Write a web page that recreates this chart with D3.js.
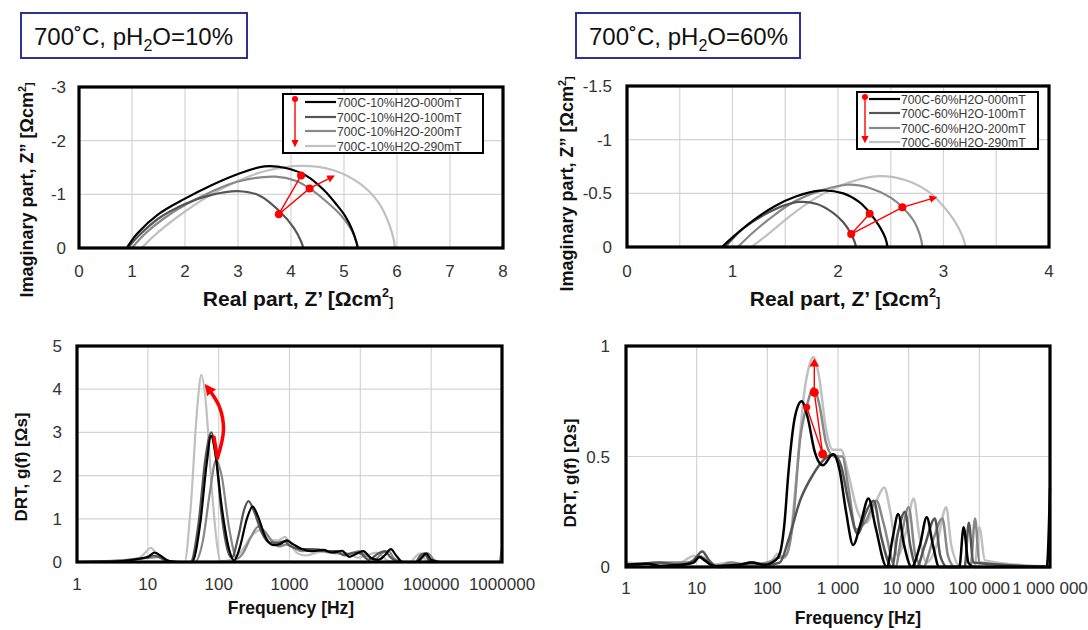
<!DOCTYPE html>
<html><head><meta charset="utf-8">
<script src="https://cdn.jsdelivr.net/npm/d3@7/dist/d3.min.js"></script>
<style>
body{margin:0;background:#fff}
svg{display:block}
text{font-family:"Liberation Sans",Arial,sans-serif}
</style>
</head><body>
<svg id="c" width="1088" height="630"></svg>
<script>
// ---------------- DATA ----------------
const titles = ["700˚C, pH|2|O=10%", "700˚C, pH|2|O=60%"];
const names10 = ["700C-10%H2O-000mT","700C-10%H2O-100mT","700C-10%H2O-200mT","700C-10%H2O-290mT"];
const names60 = ["700C-60%H2O-000mT","700C-60%H2O-100mT","700C-60%H2O-200mT","700C-60%H2O-290mT"];

// Nyquist, 10% H2O : [Z', Z'']
const nyq10_000 = [[0.9,0],[1.1,-0.27],[1.5,-0.63],[2.0,-0.92],[2.5,-1.17],[3.0,-1.38],[3.5,-1.52],[3.9,-1.49],[4.3,-1.34],[4.62,-1.08],[4.85,-0.82],[5.02,-0.6],[5.15,-0.35],[5.23,-0.12],[5.26,0]];
const nyq10_100 = [[0.92,0],[1.15,-0.25],[1.5,-0.55],[2.0,-0.82],[2.5,-0.99],[3.0,-1.06],[3.4,-0.98],[3.77,-0.7],[4.05,-0.38],[4.2,-0.1],[4.23,0]];
const nyq10_200 = [[1.0,0],[1.25,-0.27],[1.6,-0.55],[2.0,-0.8],[2.5,-1.05],[3.0,-1.24],[3.7,-1.33],[4.1,-1.25],[4.35,-1.11],[4.65,-0.88],[4.95,-0.6],[5.15,-0.32],[5.24,-0.1],[5.26,0]];
const nyq10_290 = [[1.18,0],[1.5,-0.3],[2.0,-0.68],[2.5,-1.0],[3.0,-1.25],[3.5,-1.43],[4.2,-1.53],[4.8,-1.45],[5.3,-1.2],[5.65,-0.85],[5.85,-0.45],[5.94,-0.15],[5.96,0]];
const nyq10_marks = [[4.19,-1.35],[3.77,-0.63],[4.35,-1.11],[4.79,-1.33]];

// Nyquist, 60% H2O
const nyq60_000 = [[0.9,0],[1.0,-0.09],[1.2,-0.25],[1.4,-0.38],[1.6,-0.47],[1.83,-0.525],[2.05,-0.5],[2.2,-0.42],[2.3,-0.32],[2.4,-0.18],[2.45,-0.08],[2.47,0]];
const nyq60_100 = [[0.93,0],[1.1,-0.17],[1.3,-0.3],[1.5,-0.39],[1.63,-0.42],[1.8,-0.4],[1.95,-0.32],[2.05,-0.23],[2.125,-0.12],[2.16,-0.04],[2.17,0]];
const nyq60_200 = [[1.05,0],[1.2,-0.14],[1.4,-0.3],[1.6,-0.43],[1.85,-0.53],[2.09,-0.58],[2.3,-0.55],[2.5,-0.46],[2.61,-0.37],[2.72,-0.24],[2.78,-0.1],[2.8,0]];
const nyq60_290 = [[1.18,0],[1.35,-0.13],[1.6,-0.33],[1.85,-0.49],[2.1,-0.6],[2.39,-0.66],[2.65,-0.62],[2.85,-0.52],[2.98,-0.4],[3.1,-0.25],[3.18,-0.1],[3.21,0]];
const nyq60_marks = [[2.30,-0.31],[2.125,-0.12],[2.61,-0.37],[2.92,-0.46]];

// DRT, 10% H2O : [frequency Hz, g(f)]
const drt10_000 = [[1,0],[3,0],[5,0.03],[8,0.08],[10,0.12],[12.5,0.22],[15,0.15],[20,0.02],[30,0],[42,0],[55,0.9],[68,2.3],[78,2.92],[90,2.5],[110,1.3],[140,0.3],[165,0.03],[200,0.35],[250,1.0],[302,1.28],[360,1.05],[450,0.6],[590,0.39],[750,0.42],[910,0.5],[1100,0.42],[1500,0.3],[2000,0.25],[3000,0.28],[4000,0.22],[5500,0.26],[7000,0.12],[9000,0.2],[11000,0.25],[14000,0.1],[18000,0.05],[22000,0.15],[27000,0.3],[32000,0.15],[40000,0],[62000,0],[75000,0.12],[85000,0.2],[100000,0.05],[130000,0],[1000000,0]];
const drt10_100 = [[1,0],[4,0.02],[7,0.08],[10,0.1],[12,0.15],[15,0.1],[20,0],[40,0],[52,0.9],[65,2.4],[79,3.0],[92,2.4],[110,1.1],[135,0.25],[153,0.1],[190,0.6],[228,1.2],[263,1.41],[320,1.15],[400,0.7],[520,0.45],[700,0.45],[850,0.48],[1000,0.38],[1400,0.3],[2000,0.3],[3000,0.25],[4500,0.25],[6000,0.15],[8000,0.22],[10000,0.2],[13000,0.05],[18000,0.2],[22000,0.25],[27000,0.1],[35000,0],[60000,0],[70000,0.15],[80000,0.2],[95000,0.02],[120000,0],[1000000,0]];
const drt10_200 = [[1,0],[5,0.05],[8,0.08],[11,0.1],[14,0.12],[18,0.05],[25,0],[46,0],[60,0.5],[75,1.6],[92,2.36],[110,2.0],[140,0.8],[182,0.08],[220,0.2],[280,0.55],[363,0.82],[440,0.72],[560,0.5],[700,0.36],[900,0.4],[1100,0.35],[1500,0.25],[2500,0.3],[3500,0.22],[5000,0.2],[7000,0.18],[9500,0.25],[12000,0.15],[16000,0.05],[20000,0.2],[25000,0.25],[30000,0.08],[40000,0],[65000,0],[75000,0.1],[90000,0.2],[110000,0.05],[140000,0],[900000,0],[1000000,0.33]];
const drt10_290 = [[1,0],[4,0],[7,0.06],[9,0.2],[11,0.33],[13,0.2],[17,0.05],[25,0],[33,0],[40,1.2],[50,3.6],[57,4.33],[65,3.8],[80,1.7],[95,0.4],[106,0.02],[150,0.05],[210,0.25],[290,0.6],[380,0.74],[470,0.65],[560,0.5],[700,0.5],[860,0.58],[1000,0.45],[1300,0.2],[1700,0.15],[2500,0.22],[3500,0.25],[5000,0.22],[7000,0.2],[9000,0.1],[12000,0.15],[17000,0.22],[20000,0.15],[25000,0.02],[50000,0],[60000,0.12],[70000,0.2],[85000,0.03],[110000,0],[1000000,0]];
const drt10_arrowA = [[86,2.89],[96,2.4]];
const drt10_arrowB = [[96,2.4],[117,3.06],[102,3.6],[68,4.06]];

// DRT, 60% H2O
const drt60_000 = [[1,0.01],[2,0.015],[3,0.005],[6,0.01],[9,0.02],[11,0.045],[13,0.03],[18,0.005],[40,0.01],[60,0.02],[90,0.01],[130,0.03],[150,0.06],[175,0.2],[198,0.42],[246,0.68],[306,0.75],[370,0.68],[470,0.52],[610,0.46],[850,0.51],[1050,0.44],[1300,0.25],[1640,0.1],[2100,0.2],[2700,0.31],[3400,0.18],[4900,0],[6000,0.14],[7100,0.24],[8600,0.1],[11000,0],[14500,0.1],[18000,0.225],[22000,0.1],[27000,0],[52000,0],[60000,0.18],[70000,0.02],[85000,0],[900000,0],[1000000,0.36]];
const drt60_100 = [[1,0],[3,0.02],[6,0.01],[9,0.03],[12,0.07],[15,0.03],[20,0],[40,0.01],[60,0.02],[100,0.01],[150,0.02],[198,0.12],[290,0.3],[447,0.42],[607,0.48],[855,0.51],[1100,0.46],[1400,0.3],[1900,0.15],[2500,0.25],[3200,0.3],[4000,0.15],[5800,0],[7000,0.15],[8900,0.25],[10500,0.1],[13000,0],[17000,0.1],[23500,0.22],[28000,0.05],[35000,0],[62000,0],[71000,0.2],[82000,0.02],[1000000,0]];
const drt60_200 = [[1,0.01],[4,0.02],[8,0.02],[11,0.05],[14,0.03],[20,0],[30,0.02],[50,0.01],[100,0.02],[140,0.04],[180,0.05],[230,0.2],[290,0.575],[370,0.74],[447,0.81],[540,0.74],[680,0.56],[880,0.5],[1150,0.5],[1400,0.36],[1800,0.17],[2400,0.2],[3500,0.3],[4400,0.2],[6500,0],[8000,0.15],[10000,0.27],[12500,0.05],[16000,0],[22000,0.12],[30000,0.22],[36000,0.05],[45000,0],[75000,0],[87000,0.22],[100000,0.02],[1000000,0]];
const drt60_290 = [[1,0.02],[3,0.01],[6,0.02],[9,0.05],[12,0.04],[16,0.01],[30,0.02],[60,0.01],[110,0.02],[140,0.06],[170,0.04],[200,0.08],[260,0.42],[330,0.78],[400,0.92],[447,0.95],[540,0.86],[680,0.62],[850,0.53],[1100,0.53],[1400,0.42],[1900,0.25],[2500,0.2],[3500,0.3],[4500,0.36],[5500,0.25],[7000,0.05],[9000,0.15],[11800,0.31],[14000,0.15],[18000,0.02],[25000,0.1],[34000,0.27],[40000,0.1],[55000,0],[85000,0],[100000,0.18],[120000,0.03],[1000000,0]];
const drt60_marks = [[361,0.723],[607,0.511],[462,0.79],[462,0.92]];

const seriesColors = ["#000000","#555555","#888888","#c0c0c0"];

// ---------------- DRAWING ----------------
const svg = d3.select("#c");
const defs = svg.append("defs");
function mk(id, w) {
  defs.append("marker").attr("id", id).attr("viewBox", "0 0 10 10")
    .attr("refX", 7).attr("refY", 5).attr("markerWidth", w).attr("markerHeight", w)
    .attr("orient", "auto").append("path").attr("d", "M0,0L10,5L0,10Z").attr("fill", "#ff0000");
}
mk("arrThin", 5.5); mk("arrThick", 3.2);

function titleBox(x, y, w, h, spec) {
  svg.append("rect").attr("x", x).attr("y", y).attr("width", w).attr("height", h)
    .attr("fill", "#fff").attr("stroke", "#2e3192").attr("stroke-width", 2);
  const parts = spec.split("|");
  const t = svg.append("text").attr("x", x + 13).attr("y", y + 32).attr("font-size", 24).attr("fill", "#111");
  t.append("tspan").text(parts[0]);
  t.append("tspan").attr("font-size", 16).attr("dy", 6).text(parts[1]);
  t.append("tspan").attr("dy", -6).text(parts[2]);
}
titleBox(21, 13, 226, 45, titles[0]);
titleBox(576, 13, 224, 45, titles[1]);

function frame(b, x, y, xGrid, yGrid) {
  const g = svg.append("g");
  g.selectAll(".gx").data(xGrid).join("line")
    .attr("x1", d => x(d)).attr("x2", d => x(d)).attr("y1", b.t).attr("y2", b.b)
    .attr("stroke", "#d4d4d4").attr("stroke-width", 1.2);
  g.selectAll(".gy").data(yGrid).join("line")
    .attr("y1", d => y(d)).attr("y2", d => y(d)).attr("x1", b.l).attr("x2", b.r)
    .attr("stroke", "#d4d4d4").attr("stroke-width", 1.2);
  return g;
}
function border(b) {
  svg.append("rect").attr("x", b.l).attr("y", b.t).attr("width", b.r - b.l).attr("height", b.b - b.t)
    .attr("fill", "none").attr("stroke", "#000").attr("stroke-width", 3.2);
}
function ticksText(vals, x, y, fmt, anchor, fs, col) {
  svg.append("g").selectAll("text").data(vals).join("text")
    .attr("x", d => x(d)).attr("y", d => y(d)).attr("text-anchor", anchor)
    .attr("font-size", fs).attr("fill", col).text(fmt);
}
function rotTitle(x, y, fs, family, parts) {
  const t = svg.append("text").attr("transform", `translate(${x},${y}) rotate(-90)`)
    .attr("text-anchor", "middle").attr("font-size", fs).attr("font-weight", "bold")
    .attr("font-family", family).attr("fill", "#111");
  parts.forEach(p => {
    const s = t.append("tspan").text(p[0]);
    if (p[1]) s.attr("font-size", fs * 0.6).attr("dy", p[1]);
  });
}
function hTitle(x, y, fs, family, parts) {
  const t = svg.append("text").attr("x", x).attr("y", y)
    .attr("text-anchor", "middle").attr("font-size", fs).attr("font-weight", "bold")
    .attr("font-family", family).attr("fill", "#111");
  parts.forEach(p => {
    const s = t.append("tspan").text(p[0]);
    if (p[1]) s.attr("font-size", fs * 0.6).attr("dy", p[1]);
  });
}
const fmtPlain = d => String(d);

function legend(lx, ly, lw, lh, names, rows, lineX1, lineX2, arrowX) {
  svg.append("rect").attr("x", lx).attr("y", ly).attr("width", lw).attr("height", lh)
    .attr("fill", "#fff").attr("stroke", "#000").attr("stroke-width", 2);
  names.forEach((n, i) => {
    svg.append("line").attr("x1", lineX1).attr("x2", lineX2).attr("y1", rows[i]).attr("y2", rows[i])
      .attr("stroke", seriesColors[i]).attr("stroke-width", 2.2);
    svg.append("text").attr("x", lineX2 + 1).attr("y", rows[i] + 4.5).attr("font-size", 12.2)
      .attr("fill", "#3a3a3a").text(n);
  });
  svg.append("line").attr("x1", arrowX).attr("x2", arrowX).attr("y1", ly + 5).attr("y2", ly + lh - 8)
    .attr("stroke", "#ff0000").attr("stroke-width", 1.4).attr("marker-end", "url(#arrThin)");
  svg.append("circle").attr("cx", arrowX).attr("cy", ly + 5).attr("r", 3).attr("fill", "#ff0000");
}

function markers(x, y, pts, line) {
  svg.append("path").datum(pts).attr("d", line).attr("fill", "none")
    .attr("stroke", "#ff0000").attr("stroke-width", 1.4).attr("marker-end", "url(#arrThin)");
  svg.append("g").selectAll("circle").data(pts.slice(0, pts.length - 1)).join("circle")
    .attr("cx", d => x(d[0])).attr("cy", d => y(d[1])).attr("r", 4).attr("fill", "#ff0000");
}

const sansB = "Liberation Sans, Arial, sans-serif";

// ---- Panel 1: Nyquist 10% ----
{
  const b = {l: 79, r: 503, t: 87, b: 248};
  const x = d3.scaleLinear().domain([0, 8]).range([b.l, b.r]);
  const y = d3.scaleLinear().domain([0, -3]).range([b.b, b.t]);
  frame(b, x, y, [1,2,3,4,5,6,7], [-1,-2]);
  const line = d3.line().x(d => x(d[0])).y(d => y(d[1])).curve(d3.curveCatmullRom.alpha(0.5));
  const data = [nyq10_000, nyq10_100, nyq10_200, nyq10_290];
  [3,2,1,0].forEach(i => svg.append("path").datum(data[i]).attr("d", line).attr("fill", "none")
    .attr("stroke", seriesColors[i]).attr("stroke-width", 2.2));
  markers(x, y, nyq10_marks, d3.line().x(d => x(d[0])).y(d => y(d[1])));
  border(b);
  legend(283, 94, 200, 59, names10, [102, 117, 131, 146], 305, 336, 295);
  ticksText([0,-1,-2,-3], () => 66, d => y(d) + 6, fmtPlain, "end", 17, "#333");
  ticksText([0,1,2,3,4,5,6,7,8], d => x(d), () => 277, fmtPlain, "middle", 17, "#333");
  rotTitle(33, 190, 18, sansB, [["Imaginary part, Z” [Ωcm"],["2", -7],["]", 7]]);
  hTitle(298, 306, 21, sansB, [["Real part, Z’ [Ωcm"],["2", -9],["]", 9]]);
}

// ---- Panel 2: Nyquist 60% ----
{
  const b = {l: 627, r: 1049, t: 86, b: 247};
  const x = d3.scaleLinear().domain([0, 4]).range([b.l, b.r]);
  const y = d3.scaleLinear().domain([0, -1.5]).range([b.b, b.t]);
  frame(b, x, y, [0.5,1,1.5,2,2.5,3,3.5], [-0.5,-1]);
  const line = d3.line().x(d => x(d[0])).y(d => y(d[1])).curve(d3.curveCatmullRom.alpha(0.5));
  const data = [nyq60_000, nyq60_100, nyq60_200, nyq60_290];
  [3,2,1,0].forEach(i => svg.append("path").datum(data[i]).attr("d", line).attr("fill", "none")
    .attr("stroke", seriesColors[i]).attr("stroke-width", 2.2));
  markers(x, y, nyq60_marks, d3.line().x(d => x(d[0])).y(d => y(d[1])));
  border(b);
  legend(857, 92, 181, 57, names60, [99, 113, 128, 142], 869, 900, 865);
  ticksText([0,-0.5,-1,-1.5], () => 612, d => y(d) + 6, fmtPlain, "end", 17, "#333");
  ticksText([0,1,2,3,4], d => x(d), () => 277, fmtPlain, "middle", 17, "#333");
  rotTitle(573, 184, 18, sansB, [["Imaginary part, Z” [Ωcm"],["2", -7],["]", 7]]);
  hTitle(845, 306, 21, sansB, [["Real part, Z’ [Ωcm"],["2", -9],["]", 9]]);
}

const drtFont = "'Open Sans', 'DejaVu Sans', sans-serif";

// ---- Panel 3: DRT 10% ----
{
  const b = {l: 77, r: 502, t: 346, b: 562};
  const x = d3.scaleLog().domain([1, 1e6]).range([b.l, b.r]);
  const y = d3.scaleLinear().domain([0, 5]).range([b.b, b.t]);
  frame(b, x, y, [10,100,1000,10000,100000], [1,2,3,4]);
  const line = d3.line().x(d => x(d[0])).y(d => y(d[1])).curve(d3.curveMonotoneX);
  const data = [drt10_000, drt10_100, drt10_200, drt10_290];
  [3,2,1,0].forEach(i => svg.append("path").datum(data[i]).attr("d", line).attr("fill", "none")
    .attr("stroke", seriesColors[i]).attr("stroke-width", 2.2));
  const straight = d3.line().x(d => x(d[0])).y(d => y(d[1]));
  svg.append("path").datum(drt10_arrowA).attr("d", straight).attr("fill", "none")
    .attr("stroke", "#ff0000").attr("stroke-width", 3.5).attr("stroke-linecap", "round");
  svg.append("path").datum(drt10_arrowB).attr("d", d3.line().x(d => x(d[0])).y(d => y(d[1])).curve(d3.curveCatmullRom.alpha(0.5)))
    .attr("fill", "none").attr("stroke", "#ff0000").attr("stroke-width", 3.5).attr("marker-end", "url(#arrThick)");
  border(b);
  ticksText([0,1,2,3,4,5], () => 62, d => y(d) + 6, fmtPlain, "end", 17, "#333");
  ticksText([1,10,100,1000,10000,100000,1000000], d => x(d), () => 590, fmtPlain, "middle", 17, "#333");
  rotTitle(27, 467, 17, drtFont, [["DRT, g(f) [Ωs]"]]);
  hTitle(291, 614, 17.5, drtFont, [["Frequency [Hz]"]]);
}

// ---- Panel 4: DRT 60% ----
{
  const b = {l: 626, r: 1050, t: 346, b: 567};
  const x = d3.scaleLog().domain([1, 1e6]).range([b.l, b.r]);
  const y = d3.scaleLinear().domain([0, 1]).range([b.b, b.t]);
  frame(b, x, y, [10,100,1000,10000,100000], [0.5]);
  const line = d3.line().x(d => x(d[0])).y(d => y(d[1])).curve(d3.curveMonotoneX);
  const data = [drt60_000, drt60_100, drt60_200, drt60_290];
  [3,2,1,0].forEach(i => svg.append("path").datum(data[i]).attr("d", line).attr("fill", "none")
    .attr("stroke", seriesColors[i]).attr("stroke-width", 2.5));
  const straight = d3.line().x(d => x(d[0])).y(d => y(d[1]));
  svg.append("path").datum(drt60_marks).attr("d", straight).attr("fill", "none")
    .attr("stroke", "#ff0000").attr("stroke-width", 1.4);
  svg.append("g").selectAll("circle").data(drt60_marks.slice(0, 3)).join("circle")
    .attr("cx", d => x(d[0])).attr("cy", d => y(d[1])).attr("r", (d, i) => i === 0 ? 3.5 : 4.5).attr("fill", "#ff0000");
  const tri = drt60_marks[3];
  svg.append("path").attr("transform", `translate(${x(tri[0])},${y(tri[1])})`)
    .attr("d", d3.symbol(d3.symbolTriangle, 40)()).attr("fill", "#ff0000");
  border(b);
  const spaced = d => d3.format(",")(d).replace(/,/g, " ");
  ticksText([0,0.5,1], () => 610, d => y(d) + 6, fmtPlain, "end", 17, "#333");
  ticksText([1,10,100,1000,10000,100000,1000000], d => x(d), () => 594, spaced, "middle", 17, "#333");
  rotTitle(576, 473, 17, drtFont, [["DRT, g(f) [Ωs]"]]);
  hTitle(858, 624, 17.5, drtFont, [["Frequency [Hz]"]]);
}
</script>
</body></html>
